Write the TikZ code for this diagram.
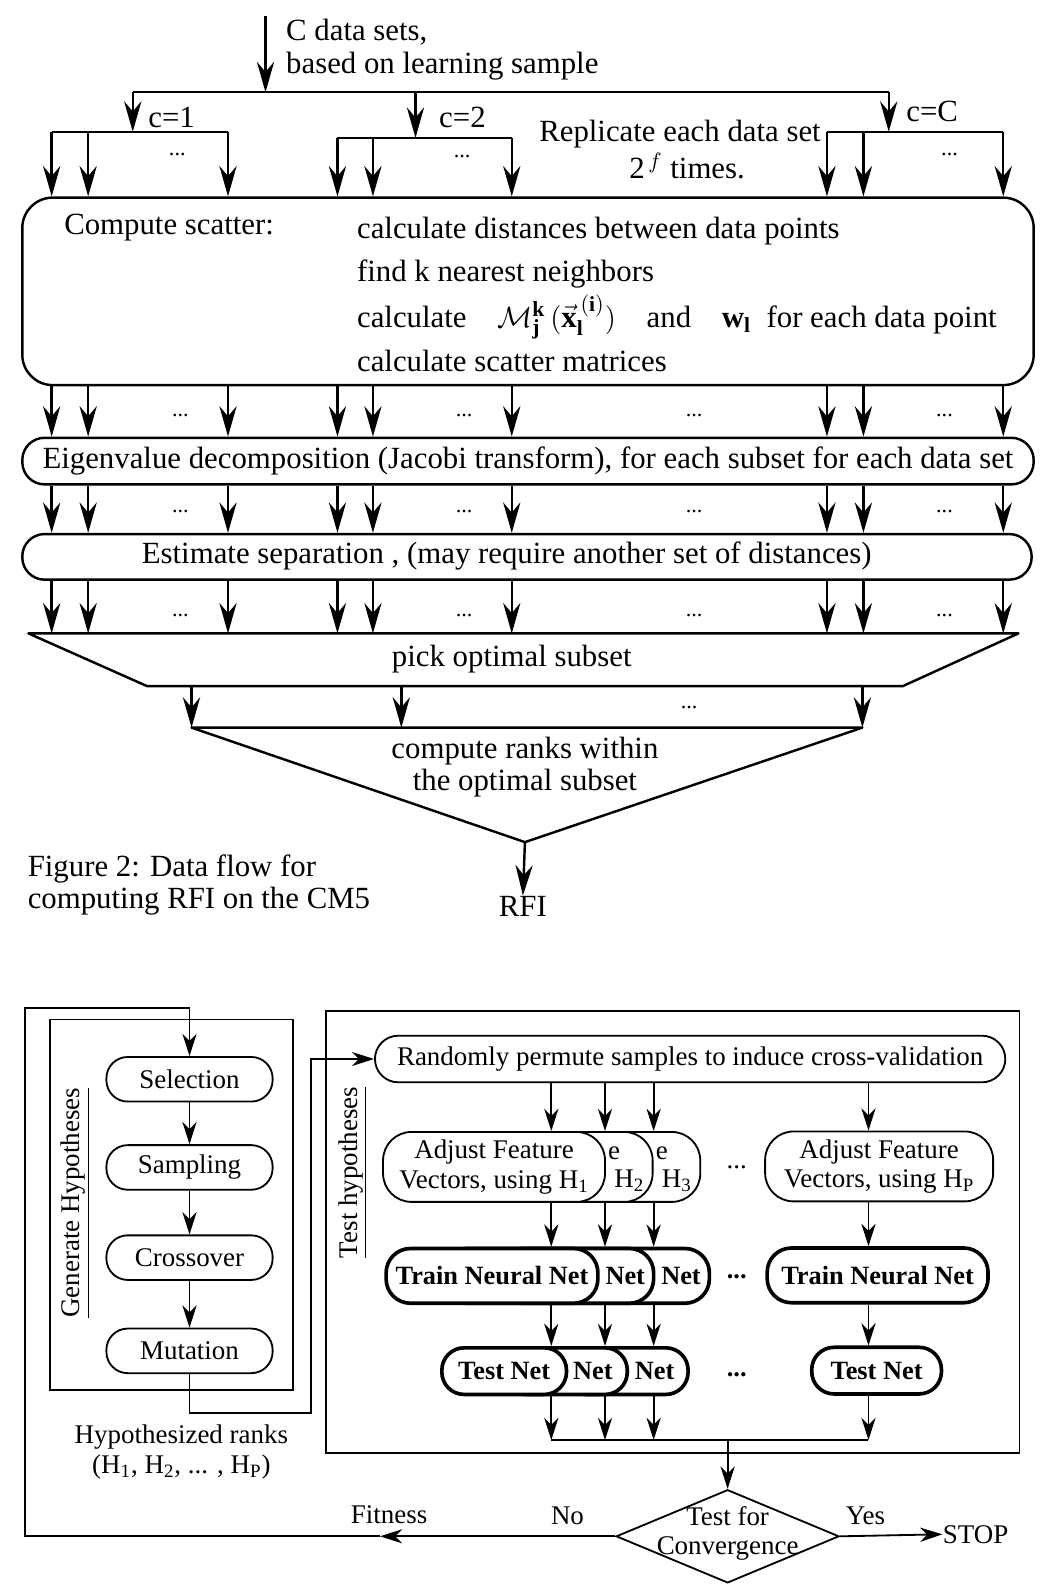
\documentclass[tikz,border=0pt]{standalone}
\usepackage{fontspec}
\setmainfont{Liberation Serif}
\usetikzlibrary{arrows.meta,shapes.geometric,positioning}

\newcommand{\topfont}{\fontsize{15.2}{17}\selectfont}
\newcommand{\lowfont}{\fontsize{13.3}{14.5}\selectfont}
\newcommand{\boldfont}{\fontsize{13}{14.5}\selectfont\bfseries}
\newcommand{\dotfont}{\fontsize{11}{12}\selectfont}

\tikzset{
  wire/.style={line width=1.2pt},
  flow/.style={line width=1.2pt,-{Stealth[length=15pt,width=8.5pt,inset=5pt]}},
  lowwire/.style={line width=0.9pt},
  lowflow/.style={line width=0.9pt,-{Stealth[length=11pt,width=7pt,inset=3.5pt]}},
  stage/.style={draw,line width=1.2pt,inner sep=0pt,rounded corners=11pt},
  frame/.style={draw,line width=0.9pt,inner sep=0pt},
  pill/.style={draw,line width=0.9pt,inner sep=0pt,rounded corners=10.5pt,font=\lowfont},
  adjbox/.style={draw,fill=white,line width=0.9pt,inner sep=0pt,rounded corners=14pt,
    minimum width=109.5pt,minimum height=34.5pt,align=center,font=\lowfont},
  trainbox/.style={draw,fill=white,line width=1.8pt,inner sep=0pt,rounded corners=12pt,
    minimum width=104.5pt,minimum height=27pt,font=\boldfont},
  testbox/.style={draw,fill=white,line width=1.8pt,inner sep=0pt,rounded corners=11pt,
    minimum width=61.5pt,minimum height=23pt,font=\boldfont},
}

\begin{document}
\begin{tikzpicture}[x=0.5pt,y=-0.5pt,
  lbl/.style={inner sep=0pt,font=\topfont},
  dots/.style={inner sep=0pt,font=\dotfont},
  lowlbl/.style={inner sep=0pt,font=\lowfont}]
\useasboundingbox (0,0) rectangle (1037,1568);

% columns of the data flow
\foreach \n/\x in {k1/51,k2/87,k3/225,k4/333,k5/368,k6/505,k7/816,k8/852,k9/990}
  \coordinate (\n) at (\x,0);

% C data sets
\coordinate (src) at (262,16);
\coordinate (fork) at (262,91);
\draw[flow] (src) -- (fork);
\node[lbl,anchor=west] (cdata) at (282,32) {C data sets,};
\node[lbl,anchor=west] (based) at (282,65) {based on learning sample};
\coordinate (b1) at (131,91);
\coordinate (b2) at (410,91);
\coordinate (b3) at (877,91);
\draw[wire] (b1) -- (b3);
\coordinate (g1) at (131,130);
\coordinate (g2) at (410,136);
\coordinate (g3) at (877,130);
\draw[flow] (b1) -- (g1);
\draw[flow] (b2) -- (g2);
\draw[flow] (b3) -- (g3);
\node[lbl,anchor=west] (cone) at (146,116) {c=1};
\node[lbl,anchor=west] (ctwo) at (433,116) {c=2};
\node[lbl,anchor=west] (cC) at (894,110) {c=C};
\node[lbl] (rep) at (671,132) {Replicate each data set};
\node[lbl] (reptimes) at (678,164) {2$^{\,f}$ times.};

% compute scatter
\node[stage,rounded corners=15pt,minimum width=499pt,minimum height=92.5pt] (scatter) at (521,287.5) {};
\node[lbl,anchor=west] (cs) at (63,225) {Compute scatter:};
\node[lbl,anchor=west] (cs1) at (352,228) {calculate distances between data points};
\node[lbl,anchor=west] (cs2) at (352,270) {find k nearest neighbors};
\node[lbl,anchor=west] (cs3) at (352,313) {calculate\quad$\mathcal{M}^{\mathbf{k}}_{\mathbf{j}}\,(\vec{\mathbf{x}}^{\,(\mathbf{i})}_{\mathbf{l}})$\quad and\quad $\mathbf{w}_{\mathbf{l}}$\ \ for each data point};
\node[lbl,anchor=west] (cs4) at (352,356) {calculate scatter matrices};

\draw[wire] (g1 -| k1) -- (g1 -| k3);
\draw[wire] (g2 -| k4) -- (g2 -| k6);
\draw[wire] (g3 -| k7) -- (g3 -| k9);
\foreach \k in {k1,k2,k3} \draw[flow] (g1 -| \k) -- (scatter.north -| \k);
\foreach \k in {k4,k5,k6} \draw[flow] (g2 -| \k) -- (scatter.north -| \k);
\foreach \k in {k7,k8,k9} \draw[flow] (g3 -| \k) -- (scatter.north -| \k);
\node[dots] (dg1) at (175,152) {...};
\node[dots] (dg2) at (456,154) {...};
\node[dots] (dg3) at (937,152) {...};

% eigenvalues, separation, pick
\node[stage,minimum width=499pt,minimum height=23pt] (eigen) at (521,455) {};
\node[lbl] (eigtxt) at (521,455) {Eigenvalue decomposition (Jacobi transform), for each subset for each data set};
\node[stage,minimum width=498pt,minimum height=22.5pt] (estim) at (520,549.5) {};
\node[lbl] (esttxt) at (500,549) {Estimate separation , (may require another set of distances)};

\coordinate (pk1) at (28,625);
\coordinate (pk2) at (1005,625);
\coordinate (pk3) at (891,677);
\coordinate (pk4) at (145,677);
\draw[wire,line join=round] (pk1) -- (pk2) -- (pk3) -- (pk4) -- cycle;
\node[lbl] (pick) at (505,650) {pick optimal subset};

\foreach \k in {k1,k2,k3,k4,k5,k6,k7,k8,k9} {
  \draw[flow] (scatter.south -| \k) -- (eigen.north -| \k);
  \draw[flow] (eigen.south -| \k) -- (estim.north -| \k);
  \draw[flow] (estim.south -| \k) -- (pk1 -| \k);
}
\foreach \x/\n in {178/a,458/b,685/c,932/d} {
  \node[dots] (dr1\n) at (\x,410) {...};
  \node[dots] (dr2\n) at (\x,505) {...};
  \node[dots] (dr3\n) at (\x,607) {...};
}

% ranks
\coordinate (m1) at (189,0);
\coordinate (m2) at (396,0);
\coordinate (m3) at (851,0);
\coordinate (rk1) at (189,718);
\coordinate (rk2) at (851,718);
\coordinate (rk3) at (518,831);
\draw[wire,line join=round] (rk1) -- (rk2) -- (rk3) -- cycle;
\foreach \m in {m1,m2,m3} \draw[flow] (pk4 -| \m) -- (rk1 -| \m);
\node[dots] (dm) at (680,698) {...};
\node[lbl,align=center] (ranks) at (518,757) {compute ranks within\\[-1pt]the optimal subset};
\node[lbl] (rfi) at (516,894) {RFI};
\draw[flow] (rk3) -- (rfi.north);
\node[lbl,anchor=west,align=left] (cap) at (27,873) {Figure 2: Data flow for\\[-1pt]computing RFI on the CM5};

% generate hypotheses
\node[frame,minimum width=120pt,minimum height=183pt] (genframe) at (169,1189) {};
\node[frame,minimum width=342pt,minimum height=218pt] (testframe) at (664,1216) {};
\node[lowlbl,rotate=90] (genlbl) at (74,1187) {\underline{Generate Hypotheses}};
\node[lowlbl,rotate=90] (testlbl) at (348,1157) {\underline{Test hypotheses}};
\node[pill,minimum width=82pt,minimum height=22pt] (sel) at (187,1065) {Selection};
\node[pill,minimum width=82pt,minimum height=22pt] (samp) at (187,1152) {Sampling};
\node[pill,minimum width=82pt,minimum height=22pt] (cross) at (187,1241) {Crossover};
\node[pill,minimum width=82pt,minimum height=22pt] (mut) at (187,1333) {Mutation};
\draw[lowflow] (sel) -- (samp);
\draw[lowflow] (samp) -- (cross);
\draw[lowflow] (cross) -- (mut);
\node[lowlbl,align=center] (hyp) at (179,1433) {Hypothesized ranks\\(H\textsubscript{1}, H\textsubscript{2}, ... , H\textsubscript{P})};

% test hypotheses
\node[pill,rounded corners=11.5pt,minimum width=311pt,minimum height=23pt] (rand) at (681,1045) {Randomly permute samples to induce cross-validation};
\coordinate (lpC) at (307,1394);
\draw[lowflow] (mut.south) |- (lpC) |- (rand.west);

\coordinate (t1) at (544,0);
\coordinate (t2) at (597,0);
\coordinate (t3) at (645,0);
\coordinate (tP) at (857,0);

% stacked copies, back to front
\node[adjbox] (adj3) at (581.5,1151.5) {};
\node[adjbox] (adj2) at (534.5,1151.5) {};
\node[adjbox] (adj1) at (487.5,1151.5) {Adjust Feature\\Vectors, using H\textsubscript{1}};
\node[lowlbl] (adj2a) at (606,1138) {e};
\node[lowlbl] (adj2b) at (621,1165) {H\textsubscript{2}};
\node[lowlbl] (adj3a) at (653,1138) {e};
\node[lowlbl] (adj3b) at (668,1165) {H\textsubscript{3}};
\node[adjbox,minimum width=112.5pt] (adjP) at (867.5,1151) {Adjust Feature\\Vectors, using H\textsubscript{P}};
\node[lowlbl] (adjdots) at (727,1152) {...};

\node[trainbox] (train3) at (595.5,1259) {};
\node[trainbox] (train2) at (540.5,1259) {};
\node[trainbox] (train1) at (485.5,1259) {Train Neural Net};
\node[inner sep=0pt,font=\boldfont] (train2a) at (617,1259) {Net};
\node[inner sep=0pt,font=\boldfont] (train3a) at (672,1259) {Net};
\node[trainbox,minimum width=109pt] (trainP) at (866,1258.5) {Train Neural Net};
\node[inner sep=0pt,font=\boldfont] (traindots) at (727,1260) {...};

\node[testbox] (test3) at (617.5,1353) {};
\node[testbox] (test2) at (557.5,1353) {};
\node[testbox] (test1) at (497.5,1353) {Test Net};
\node[inner sep=0pt,font=\boldfont] (test2a) at (585,1353) {Net};
\node[inner sep=0pt,font=\boldfont] (test3a) at (646,1353) {Net};
\node[testbox,minimum width=64pt] (testP) at (865,1352.5) {Test Net};
\node[inner sep=0pt,font=\boldfont] (testdots) at (727,1357) {...};

\foreach \t/\n in {t1/1,t2/2,t3/3,tP/P} {
  \draw[lowflow] (rand.south -| \t) -- (adj\n.north -| \t);
  \draw[lowflow] (adj\n.south -| \t) -- (train\n.north -| \t);
  \draw[lowflow] (train\n.south -| \t) -- (test\n.north -| \t);
}

\coordinate (join) at (718,1421);
\foreach \t/\n in {t1/1,t2/2,t3/3,tP/P}
  \draw[lowflow] (test\n.south -| \t) -- (join -| \t);
\draw[lowwire] (join -| t1) -- (join -| tP);

% convergence
\node[draw,diamond,line width=0.9pt,inner sep=0pt,minimum width=110pt,minimum height=46pt] (conv) at (718,1516) {};
\node[lowlbl,align=center] (convtxt) at (718,1513) {Test for\\Convergence};
\draw[lowflow] (join) -- (conv.north);
\node[lowlbl,anchor=west] (stop) at (930,1514) {STOP};
\draw[lowflow] (conv.east) -- (stop.west);
\node[lowlbl] (yes) at (854,1496) {Yes};
\node[lowlbl] (no) at (560,1496) {No};
\node[lowlbl] (fit) at (384,1495) {Fitness};
\coordinate (fitTip) at (375,1516);
\coordinate (lpA) at (25,1516);
\coordinate (lpB) at (25,995);
\draw[lowflow] (conv.west) -- (fitTip);
\draw[lowflow] (fitTip) -- (lpA) -- (lpB) -| (sel.north);
\end{tikzpicture}
\end{document}
